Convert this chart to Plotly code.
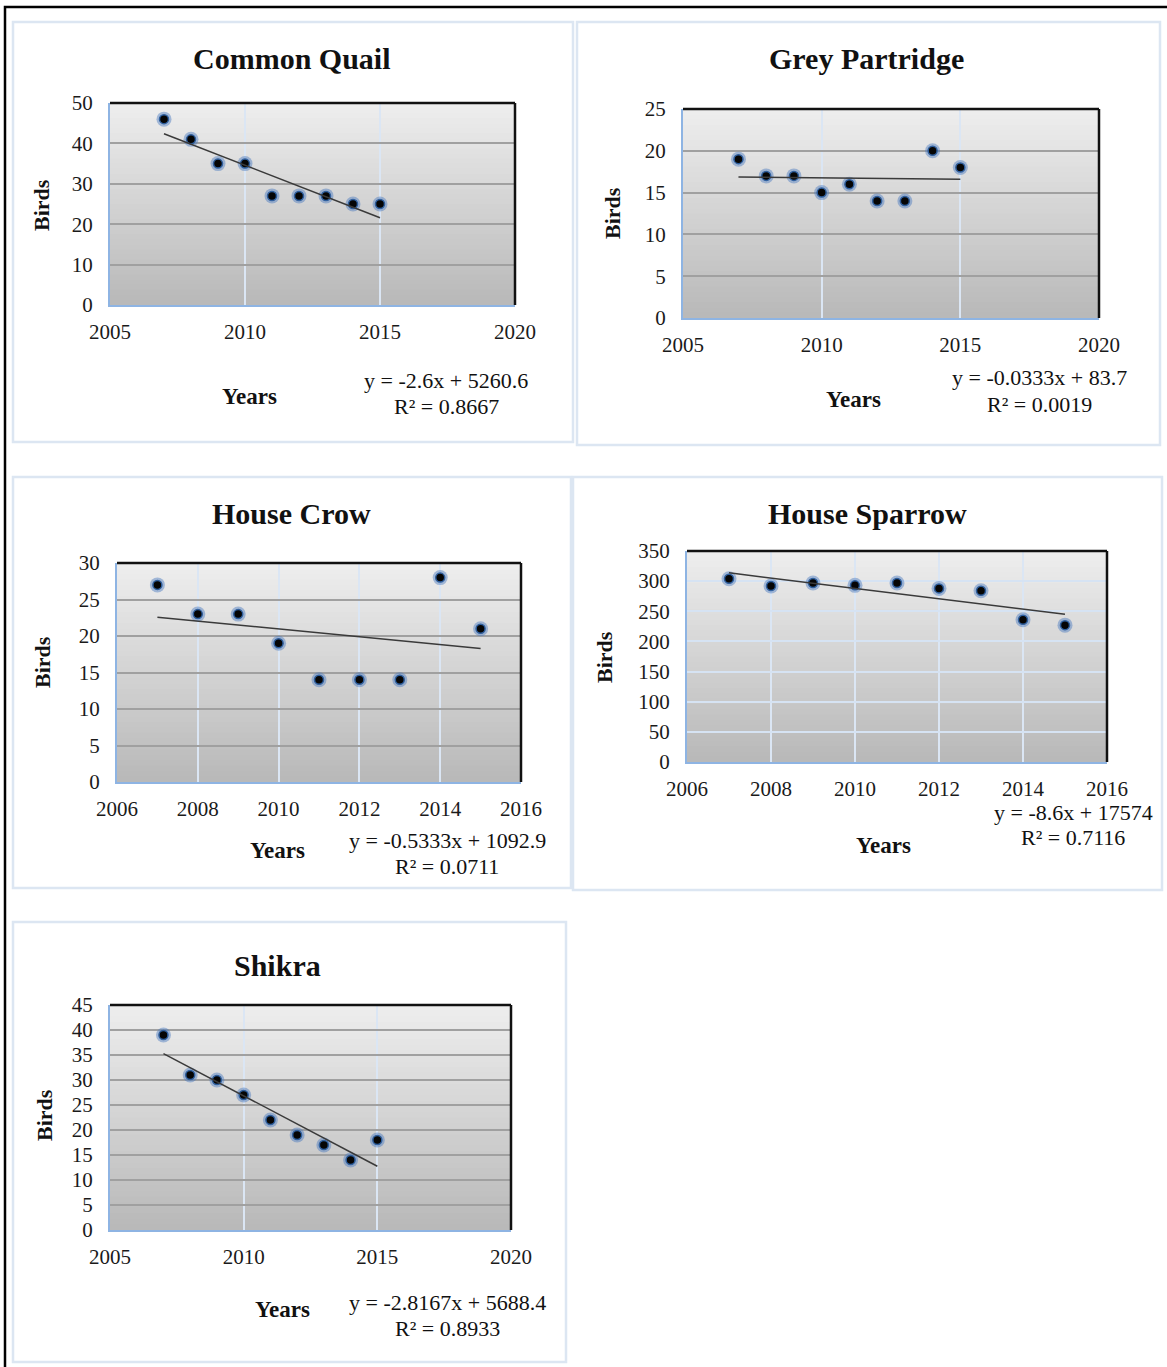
import numpy as np
import plotly.graph_objects as go

# ---------------- data ----------------
years = [2007, 2008, 2009, 2010, 2011, 2012, 2013, 2014, 2015]
species = ["Common Quail", "Grey Partridge", "House Crow", "House Sparrow", "Shikra"]
common_quail = [46, 41, 35, 35, 27, 27, 27, 25, 25]
grey_partridge = [19, 17, 17, 15, 16, 14, 14, 20, 18]
house_crow = [27, 23, 23, 19, 14, 14, 14, 28, 21]
house_sparrow = [304, 292, 297, 293, 297, 288, 284, 236, 227]
shikra = [39, 31, 30, 27, 22, 19, 17, 14, 18]
trend_slope = [-2.6, -0.0333, -0.5333, -8.6, -2.8167]
trend_intercept = [5260.6, 83.7, 1092.9, 17574, 5688.4]
trend_r2 = [0.8667, 0.0019, 0.0711, 0.7116, 0.8933]
x_ranges = [[2005, 2020], [2005, 2020], [2006, 2016], [2006, 2016], [2005, 2020]]
x_dticks = [5, 5, 2, 2, 5]
y_ranges = [[0, 50], [0, 25], [0, 30], [0, 350], [0, 45]]
y_dticks = [10, 5, 5, 50, 5]
series = [common_quail, grey_partridge, house_crow, house_sparrow, shikra]

# ---------------- layout (pixels in a 1167x1367 page) ----------------
W, H = 1167, 1367
# plot area: left, right, top, bottom
plot_px = [(110, 515, 103, 305), (683, 1099, 109, 318), (117, 521, 563, 782),
           (687, 1107, 551, 762), (110, 511, 1005, 1230)]
panel_px = [(13, 22, 573, 442), (577, 22, 1160, 445), (13, 477, 571, 888),
            (573, 477, 1162, 890), (13, 922, 566, 1362)]
title_px = [(292, 58), (866, 58), (291, 513), (867, 513), (277, 965)]
birds_px = [(42, 205), (613, 213), (42, 662), (604, 657), (44, 1115)]
years_px = [(249, 397), (853, 400), (277, 850), (883, 845), (282, 1309)]
eq_px = [(446, 380), (1039, 378), (447, 840), (1073, 812), (447, 1302)]
ygrid_col = ["#a0a0a0", "#a0a0a0", "#a0a0a0", "#d6e3f3", "#a0a0a0"]

FONT = "Liberation Serif"


def fx(p):
    return p / W


def fy(p):
    return 1 - p / H


def lerp(c0, c1, t):
    return "rgb(%d,%d,%d)" % tuple(round(a + (b - a) * t) for a, b in zip(c0, c1))


fig = go.Figure()
shapes = []
annotations = []
layout_axes = {}

# outer black frame
shapes.append(dict(type="rect", xref="paper", yref="paper", x0=fx(5), x1=fx(1175),
                   y0=fy(7), y1=fy(1380), line=dict(color="black", width=2.5)))

top_c = (238, 238, 238)
bot_c = (184, 184, 184)
N = 40

for i in range(5):
    n = "" if i == 0 else str(i + 1)
    xa, ya = "x" + n, "y" + n
    L, R, T, B = plot_px[i]
    layout_axes["xaxis" + n] = dict(
        domain=[fx(L), fx(R)], range=x_ranges[i], dtick=x_dticks[i], tick0=2000,
        anchor=ya, showgrid=True, gridcolor="#dbe6f4", gridwidth=1.5,
        showline=True, linecolor="#8eb4e3", linewidth=2, zeroline=False,
        ticks="outside", ticklen=7, tickcolor="rgba(0,0,0,0)", automargin=False,
        tickfont=dict(family=FONT, size=21, color="#1a1a1a"), fixedrange=True)
    layout_axes["yaxis" + n] = dict(
        domain=[fy(B), fy(T)], range=y_ranges[i], dtick=y_dticks[i], tick0=0,
        anchor=xa, showgrid=True, gridcolor=ygrid_col[i], gridwidth=1.5,
        showline=True, linecolor="#8eb4e3", linewidth=2, zeroline=False,
        ticks="outside", ticklen=11, tickcolor="rgba(0,0,0,0)", automargin=False,
        tickfont=dict(family=FONT, size=21, color="#1a1a1a"), fixedrange=True)

    # panel box
    pl, pt, pr, pb = panel_px[i]
    shapes.append(dict(type="rect", xref="paper", yref="paper", x0=fx(pl), x1=fx(pr),
                       y0=fy(pb), y1=fy(pt), line=dict(color="#dce6f2", width=2.5),
                       layer="below"))

    # gradient plot background
    xd, yd = xa + " domain", ya + " domain"
    for k in range(N):
        t = (k + 0.5) / N
        shapes.append(dict(type="rect", xref=xd, yref=yd, x0=0, x1=1,
                           y0=k / N, y1=min(1, (k + 1) / N + 0.004),
                           fillcolor=lerp(bot_c, top_c, t), line=dict(width=0),
                           layer="below"))
    # black top / right border
    shapes.append(dict(type="line", xref=xd, yref=yd, x0=0, x1=1, y0=1, y1=1,
                       line=dict(color="#111", width=2.5), layer="above"))
    shapes.append(dict(type="line", xref=xd, yref=yd, x0=1, x1=1, y0=0, y1=1,
                       line=dict(color="#111", width=2.5), layer="above"))

    # points: glow + dot
    fig.add_trace(go.Scatter(x=years, y=series[i], xaxis=xa, yaxis=ya, mode="markers",
                             marker=dict(size=15, color="rgba(70,120,190,0.45)", line=dict(width=0)),
                             hoverinfo="skip", showlegend=False))
    fig.add_trace(go.Scatter(x=years, y=series[i], xaxis=xa, yaxis=ya, mode="markers",
                             marker=dict(size=9, color="#050505",
                                         line=dict(width=1.5, color="#2f5f9e")),
                             name=species[i], showlegend=False))
    # linear trendline from the fitted equation
    tx = np.array([years[0], years[-1]], dtype=float)
    ty = trend_slope[i] * tx + trend_intercept[i]
    fig.add_trace(go.Scatter(x=tx, y=ty, xaxis=xa, yaxis=ya, mode="lines",
                             line=dict(color="#3a3a3a", width=1.5),
                             hoverinfo="skip", showlegend=False))

    # texts
    annotations.append(dict(text="<b>%s</b>" % species[i], xref="paper", yref="paper",
                            x=fx(title_px[i][0]), y=fy(title_px[i][1]), showarrow=False,
                            xanchor="center", yanchor="middle",
                            font=dict(family=FONT, size=30, color="#111")))
    annotations.append(dict(text="<b>Birds</b>", xref="paper", yref="paper",
                            x=fx(birds_px[i][0]), y=fy(birds_px[i][1]), showarrow=False,
                            textangle=-90, xanchor="center", yanchor="middle",
                            font=dict(family=FONT, size=22, color="#111")))
    annotations.append(dict(text="<b>Years</b>", xref="paper", yref="paper",
                            x=fx(years_px[i][0]), y=fy(years_px[i][1]), showarrow=False,
                            xanchor="center", yanchor="middle",
                            font=dict(family=FONT, size=23, color="#111")))
    eq = "y = %sx + %s" % (format(trend_slope[i], "g"), format(trend_intercept[i], "g"))
    annotations.append(dict(text=eq, xref="paper", yref="paper",
                            x=fx(eq_px[i][0]), y=fy(eq_px[i][1]), showarrow=False,
                            xanchor="center", yanchor="middle",
                            font=dict(family=FONT, size=22, color="#111")))
    annotations.append(dict(text="R² = %.4f" % trend_r2[i], xref="paper", yref="paper",
                            x=fx(eq_px[i][0]), y=fy(eq_px[i][1] + 26), showarrow=False,
                            xanchor="center", yanchor="middle",
                            font=dict(family=FONT, size=22, color="#111")))

fig.update_layout(
    width=W, height=H, autosize=False,
    margin=dict(l=0, r=0, t=0, b=0, pad=0, autoexpand=False),
    paper_bgcolor="white", plot_bgcolor="rgba(0,0,0,0)",
    shapes=shapes, annotations=annotations, showlegend=False,
    **layout_axes,
)

fig.write_html("out.html", config={"displayModeBar": False},
               post_script="document.body.style.margin='0';document.body.style.overflow='hidden';")
